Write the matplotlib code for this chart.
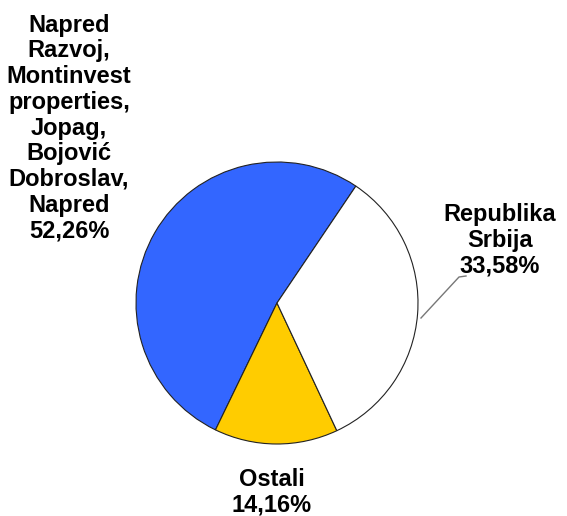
import matplotlib.pyplot as plt

# podaci
labels = ['Napred\nRazvoj,\nMontinvest\nproperties,\nJopag,\nBojović\nDobroslav,\nNapred', 'Ostali', 'Republika\nSrbija']
values = [52.26, 14.16, 33.58]
colors = ['#3366ff', '#ffcc00', '#ffffff']

W, H = 567, 516
fig = plt.figure(figsize=(W / 100, H / 100), dpi=100)
ax = fig.add_axes([0, 0, 1, 1])

# pita, centar i poluprecnik u pikselima
ax.pie(values, colors=colors, startangle=56, counterclock=True,
       radius=141, center=(277, H - 303),
       wedgeprops=dict(edgecolor='#222222', linewidth=0.8))
ax.set_xlim(0, W)
ax.set_ylim(0, H)
ax.set_aspect('equal')
ax.axis('off')

font = dict(family='Liberation Sans', weight='bold', size=17, ha='center', va='center', linespacing=1.15)

txt = [l + '\n' + ('%.2f' % v).replace('.', ',') + '%' for l, v in zip(labels, values)]
ax.text(69, H - 128, txt[0], **font)
ax.text(272, H - 492, txt[1], **font)
ax.text(500, H - 240, txt[2], **font)

# linija do oznake
ax.plot([421, 459, 466], [H - 318, H - 277, H - 276], color='#777777', lw=1)

fig.savefig('out.png', dpi=100)
